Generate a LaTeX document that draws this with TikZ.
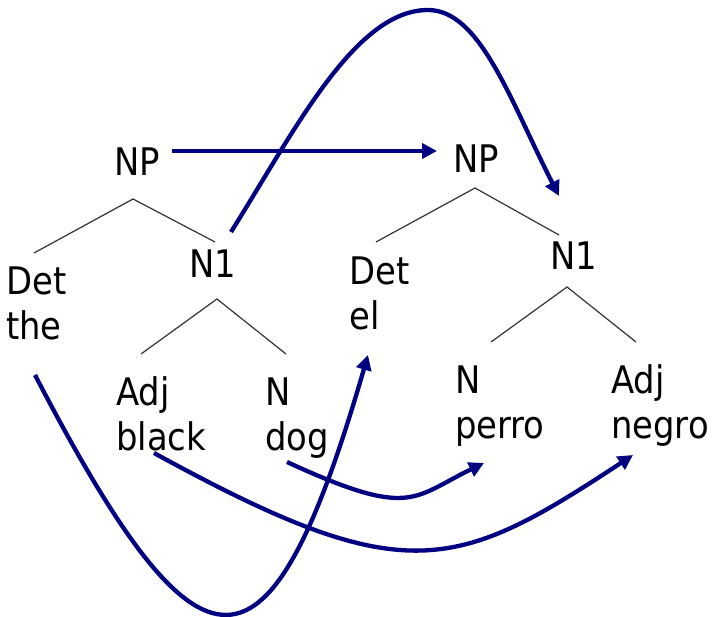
\documentclass[tikz,border=0pt]{standalone}
\usepackage{fontspec}
\setmainfont{DejaVu Sans}
\usetikzlibrary{arrows.meta}
\definecolor{arrowblue}{RGB}{0,0,128}
\newcommand\nar[1]{\scalebox{0.89}[1]{#1}}
\tikzset{
  word/.style={font=\fontsize{38}{45}\selectfont, inner sep=0pt, align=left, anchor=base west},
  branch/.style={draw=black!80, line width=1.2pt},
  move/.style={draw=arrowblue, line width=4.3pt, -{Triangle[length=15pt,width=15pt]}},
}
\begin{document}
\begin{tikzpicture}[x=1pt,y=-1pt]
\useasboundingbox (0,0) rectangle (712,617);

% English tree (two-line labels sit on the baseline of their last line)
\node[word] (npA)  at (114,176) {\nar{NP}};
\node[word] (detA) at (6,340)   {\nar{Det}\\\nar{the}};
\node[word] (nbA)  at (189,278) {\nar{N1}};
\node[word] (adjA) at (116,450) {\nar{Adj}\\\nar{black}};
\node[word] (nA)   at (265,450) {\nar{N}\\\nar{dog}};

% Spanish tree
\node[word] (npB)  at (453,173) {\nar{NP}};
\node[word] (detB) at (349,330) {\nar{Det}\\\nar{el}};
\node[word] (nbB)  at (550,270) {\nar{N1}};
\node[word] (nB)   at (455,438) {\nar{N}\\\nar{perro}};
\node[word] (adjB) at (611,438) {\nar{Adj}\\\nar{negro}};

% branch points
\coordinate (apexA)  at (133,199);
\coordinate (legA1)  at (34,253);
\coordinate (legA2)  at (215,242);
\coordinate (apexA2) at (217,299);
\coordinate (legA3)  at (141,354);
\coordinate (legA4)  at (286,354);
\coordinate (apexB)  at (475,188);
\coordinate (legB1)  at (376,242);
\coordinate (legB2)  at (559,235);
\coordinate (apexB2) at (567,287);
\coordinate (legB3)  at (491,342);
\coordinate (legB4)  at (636,342);

\draw[branch] (legA1) -- (apexA) -- (legA2);
\draw[branch] (legA3) -- (apexA2) -- (legA4);
\draw[branch] (legB1) -- (apexB) -- (legB2);
\draw[branch] (legB3) -- (apexB2) -- (legB4);

% arrow ends
\coordinate (fromNP)  at (172,151);
\coordinate (toNP)    at (437,151);
\coordinate (fromN1)  at (231,232);
\coordinate (topN1)   at (428,10);
\coordinate (toN1)    at (559,196);
\coordinate (fromThe) at (35,375);
\coordinate (toEl)    at (368,355);
\coordinate (fromBlk) at (154,453);
\coordinate (toNegro) at (633,455);
\coordinate (fromDog) at (287,462);
\coordinate (toPerro) at (484,463);

\draw[move] (fromNP) -- (toNP);
\draw[move] (fromN1) .. controls (295,130) and (355,10) .. (topN1)
                     .. controls (480,10) and (510,100) .. (toN1);
\draw[move] (fromThe) .. controls (202,696) and (269,696) .. (toEl);
\draw[move] (fromBlk) .. controls (404,590) and (454,573) .. (toNegro);
\draw[move] (fromDog) .. controls (411,519) and (412,498) .. (toPerro);
\end{tikzpicture}
\end{document}
